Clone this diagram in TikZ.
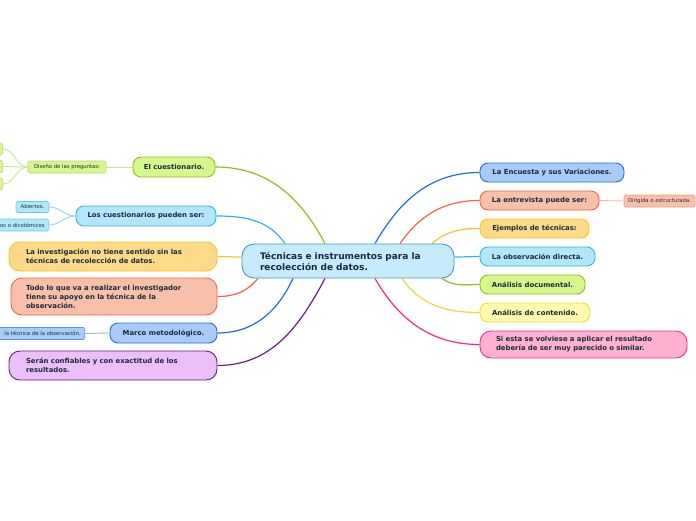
\documentclass[tikz,border=0pt]{standalone}
\usepackage{fontspec}
\setmainfont{DejaVu Sans}
\usetikzlibrary{backgrounds}
\definecolor{txt}{HTML}{1B2B3A}
\definecolor{ctxt}{HTML}{1A2550}
\definecolor{cfill}{HTML}{C6EBFB}\definecolor{cdraw}{HTML}{4A94CC}
\definecolor{gfill}{HTML}{D6F78C}\definecolor{gdraw}{HTML}{8AC01E}
\definecolor{bfill}{HTML}{A9CBFA}\definecolor{bdraw}{HTML}{1E6FDC}
\definecolor{sfill}{HTML}{F8BFAA}\definecolor{sdraw}{HTML}{F06440}
\definecolor{yfill}{HTML}{FDDA88}\definecolor{ydraw}{HTML}{F8C228}
\definecolor{lfill}{HTML}{B2E6FA}\definecolor{ldraw}{HTML}{32B2EA}
\definecolor{pyfill}{HTML}{FFF9B0}\definecolor{pydraw}{HTML}{ECD93A}
\definecolor{pfill}{HTML}{FFB1D2}\definecolor{pdraw}{HTML}{F02C7C}
\definecolor{vfill}{HTML}{EBC0FA}\definecolor{vdraw}{HTML}{6B1B85}
\definecolor{gsub}{HTML}{B8DC6A}\definecolor{lsub}{HTML}{6CC8EE}
\definecolor{ssub}{HTML}{F49C80}\definecolor{bsub}{HTML}{5A94E8}
\definecolor{gcon}{HTML}{C8E890}\definecolor{lcon}{HTML}{90D4F0}
\definecolor{scon}{HTML}{F8B8A0}\definecolor{bcon}{HTML}{90B8F0}
\newcommand\mainf{\fontsize{6.9}{9}\selectfont\bfseries}
\newcommand\centf{\fontsize{9}{11}\selectfont\bfseries}
\newcommand\smallf{\fontsize{5.3}{6}\selectfont}
\tikzset{
  mainbox/.style={draw, line width=0.9pt, rounded corners=8pt, font=\mainf, text=txt, inner sep=0pt, minimum height=19},
  multibox/.style={draw, line width=0.9pt, rounded corners=11pt, font=\mainf, text=txt, inner ysep=0pt, align=left},
  subbox/.style={draw, line width=0.6pt, rounded corners=1.5pt, font=\smallf, text=txt, inner sep=0pt, minimum height=12},
  conn/.style={line width=1.2pt},
  subconn/.style={line width=0.9pt},
}
\begin{document}
\begin{tikzpicture}[x=1pt,y=-1pt]
\useasboundingbox (0,0) rectangle (696,520);
\clip (0,0) rectangle (696,520);
% central
\node[draw=cdraw, fill=cfill, line width=0.9pt, rounded corners=12pt, font=\centf, text=ctxt, text width=176, inner xsep=18, inner ysep=0pt, minimum height=34, align=left] (c) at (348,261) {Técnicas e instrumentos para la\\recolección de datos.};
% right
\node[mainbox, draw=bdraw, fill=bfill, minimum width=144] (enc) at (552,172.5) {La Encuesta y sus Variaciones.};
\node[mainbox, draw=sdraw, fill=sfill, minimum width=119] (ent) at (539.5,200.5) {La entrevista puede ser:};
\node[mainbox, draw=ydraw, fill=yfill, minimum width=109] (eje) at (534.5,228.5) {Ejemplos de técnicas:};
\node[mainbox, draw=ldraw, fill=lfill, minimum width=115] (obs) at (537.5,256.5) {La observación directa.};
\node[mainbox, draw=gdraw, fill=gfill, minimum width=105] (doc) at (532.5,284.5) {Análisis documental.};
\node[mainbox, draw=pydraw, fill=pyfill, minimum width=110] (con) at (535,312.5) {Análisis de contenido.};
\node[multibox, draw=pdraw, fill=pfill, text width=175, inner xsep=16, minimum height=27] (si) at (583.5,344.5) {Si esta se volviese a aplicar el resultado\\debería de ser muy parecido o similar.};
\node[subbox, draw=ssub, fill=sfill, minimum width=71] (dir) at (659.5,201) {Dirigida o estructurada.};
% left
\node[mainbox, draw=gdraw, fill=gfill, minimum width=82, minimum height=20] (q) at (174,167) {El cuestionario.};
\node[mainbox, draw=ldraw, fill=lfill, minimum width=140, minimum height=20] (lc) at (146,216) {Los cuestionarios pueden ser:};
\node[multibox, draw=ydraw, fill=yfill, text width=174, inner xsep=17, minimum height=29] (inv) at (113,256.5) {La investigación no tiene sentido sin las\\técnicas de recolección de datos.};
\node[multibox, draw=sdraw, fill=sfill, text width=176, inner xsep=15, minimum height=37] (todo) at (114,296.5) {Todo lo que va a realizar el investigador\\tiene su apoyo en la técnica de la\\observación.};
\node[mainbox, draw=bdraw, fill=bfill, minimum width=107, minimum height=20] (mar) at (163.5,333) {Marco metodológico.};
\node[multibox, draw=vdraw, fill=vfill, text width=174, inner xsep=17, minimum height=29] (ser) at (113,365.5) {Serán confiables y con exactitud de los\\resultados.};
% small left
\node[subbox, draw=gsub, fill=gfill, minimum width=78] (dis) at (67,167) {Diseño de las preguntas:};
\node[subbox, draw=gsub, fill=gfill, minimum width=40, anchor=east] (g1) at (3,149) {};
\node[subbox, draw=gsub, fill=gfill, minimum width=40, anchor=east] (g2) at (3,166.5) {};
\node[subbox, draw=gsub, fill=gfill, minimum width=40, anchor=east] (g3) at (3,184) {};
\node[subbox, draw=lsub, fill=lfill, minimum width=33, minimum height=11] (abi) at (32.5,207) {Abiertos.};
\node[subbox, draw=lsub, fill=lfill, anchor=east, text width=62, align=right, inner xsep=4] (dic) at (49,225) {os o dicotómicos};
\node[subbox, draw=bsub, fill=bfill, anchor=east, text width=95, align=right, inner xsep=4] (mch) at (85,333.5) {la técnica de la observación.};
\begin{scope}[on background layer]
\draw[conn, draw=gdraw] ([xshift=-23pt]c.north) to[out=118, in=0] (q.east);
\draw[conn, draw=ldraw] ([xshift=-63pt]c.north) to[out=125, in=0] (lc.east);
\draw[conn, draw=ydraw] ([yshift=4pt]c.west) to[out=180, in=0] (inv.east);
\draw[conn, draw=sdraw] ([xshift=-90pt]c.south) to[out=-130, in=0] (todo.east);
\draw[conn, draw=bdraw] ([xshift=-55pt]c.south) to[out=-115, in=0] (mar.east);
\draw[conn, draw=vdraw] ([xshift=-23pt]c.south) to[out=-118, in=0] (ser.east);
\draw[conn, draw=bdraw] ([xshift=27pt]c.north) to[out=60, in=180] (enc.west);
\draw[conn, draw=sdraw] ([xshift=52pt]c.north) to[out=55, in=180] (ent.west);
\draw[conn, draw=ydraw] ([xshift=84pt]c.north) to[out=40, in=180] (eje.west);
\draw[conn, draw=ldraw] ([yshift=4pt]c.east) to[out=0, in=180] (obs.west);
\draw[conn, draw=gdraw] ([xshift=94pt]c.south) to[out=-35, in=180] (doc.west);
\draw[conn, draw=pydraw] ([xshift=54pt]c.south) to[out=-55, in=180] (con.west);
\draw[conn, draw=pdraw] ([xshift=27pt]c.south) to[out=-60, in=180] (si.west);
\draw[subconn, draw=scon] (ent.east) -- (dir.west);
\draw[subconn, draw=gcon] (q.west) -- (dis.east);
\draw[subconn, draw=gcon] (dis.west) to[out=180, in=0] (g1.east);
\draw[subconn, draw=gcon] (dis.west) to[out=180, in=0] (g2.east);
\draw[subconn, draw=gcon] (dis.west) to[out=180, in=0] (g3.east);
\draw[subconn, draw=lcon] (lc.west) to[out=180, in=0] (abi.east);
\draw[subconn, draw=lcon] (lc.west) to[out=180, in=0] (dic.east);
\draw[subconn, draw=bcon] (mar.west) -- (mch.east);
\end{scope}
\end{tikzpicture}
\end{document}
